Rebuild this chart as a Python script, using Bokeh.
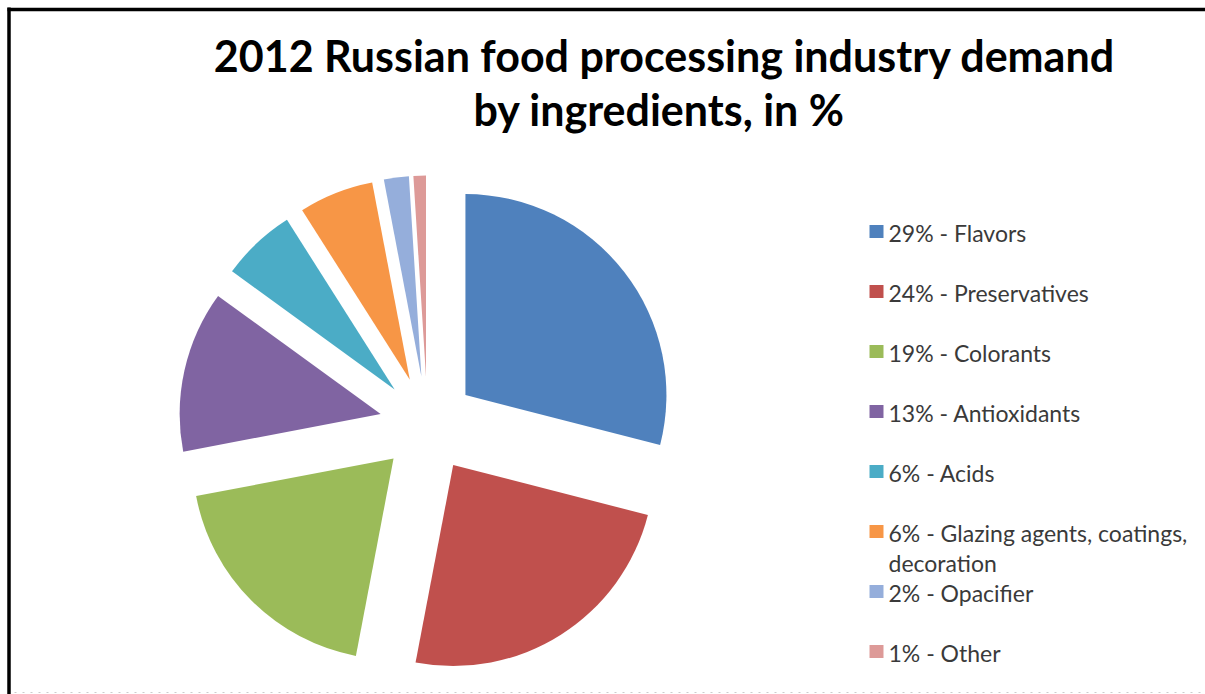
import math
from bokeh.plotting import figure
from bokeh.models import Range1d, ColumnDataSource
from bokeh.core.properties import value
from bokeh.embed import file_html
from bokeh.resources import INLINE

# ---- data ----
title_lines = ["2012 Russian food processing industry demand", "by ingredients,  in %"]
categories = ["Flavors", "Preservatives", "Colorants", "Antioxidants", "Acids",
              "Glazing agents, coatings,\ndecoration", "Opacifier", "Other"]
shares = [29, 24, 19, 13, 6, 6, 2, 1]
colors = ["#4F81BD", "#C0504D", "#9BBB59", "#8064A2", "#4BACC6", "#F79646", "#95AEDB", "#DD9A98"]

W, H = 1205, 694
p = figure(width=W, height=H, output_backend="svg", toolbar_location=None,
           x_range=Range1d(0, W), y_range=Range1d(0, H), min_border=0)
p.axis.visible = False
p.grid.visible = False
p.outline_line_color = None
p.background_fill_color = "white"
p.border_fill_color = "white"

def Y(sy):
    return H - sy

# frame border (left and top)
p.segment(x0=[8.5, 7], y0=[Y(7), Y(9)], x1=[8.5, W], y1=[Y(H), Y(9)], line_color="black", line_width=3.5)
p.segment(x0=[14], y0=[Y(692)], x1=[W], y1=[Y(692)], line_color="#cccccc", line_width=1, line_dash="2 6")

# pie
cx, cy, r, explode = 427, Y(424), 201, 48
total = sum(shares)
xs, ys, starts, ends = [], [], [], []
cum = 0
for v in shares:
    a0 = math.radians(90 - 360 * cum / total)
    a1 = math.radians(90 - 360 * (cum + v) / total)
    mid = (a0 + a1) / 2
    xs.append(cx + explode * math.cos(mid))
    ys.append(cy + explode * math.sin(mid))
    starts.append(a0)
    ends.append(a1)
    cum += v
src = ColumnDataSource(dict(x=xs, y=ys, s=starts, e=ends, c=colors))
p.wedge(x="x", y="y", radius=r, start_angle="s", end_angle="e", direction="clock",
        fill_color="c", line_color=None, source=src)

# title
p.text(x=[664, 664], y=[Y(55), Y(109)], text=title_lines, text_align="center",
       text_baseline="alphabetic", text_font=value("Lato"), text_font_style="bold",
       text_font_size="43px", text_color="black")

# legend
leg_x, leg_y0, leg_dy = 876, 231, 60
lx, ly, lt = [], [], []
for i, (name, v) in enumerate(zip(categories, shares)):
    sy = leg_y0 + i * leg_dy
    lx.append(leg_x)
    ly.append(Y(sy))
    lt.append(f"{v}% - {name}")
p.rect(x=lx, y=ly, width=14, height=13, fill_color=colors, line_color=None)
p.text(x=[leg_x + 12] * len(lt), y=[yy + 13 for yy in ly], text=lt, text_align="left",
       text_baseline="top", text_font=value("Lato"), text_font_size="23px",
       text_color="#3a3a3a", text_line_height=1.1)

open("out.html", "w").write(file_html(p, INLINE))
